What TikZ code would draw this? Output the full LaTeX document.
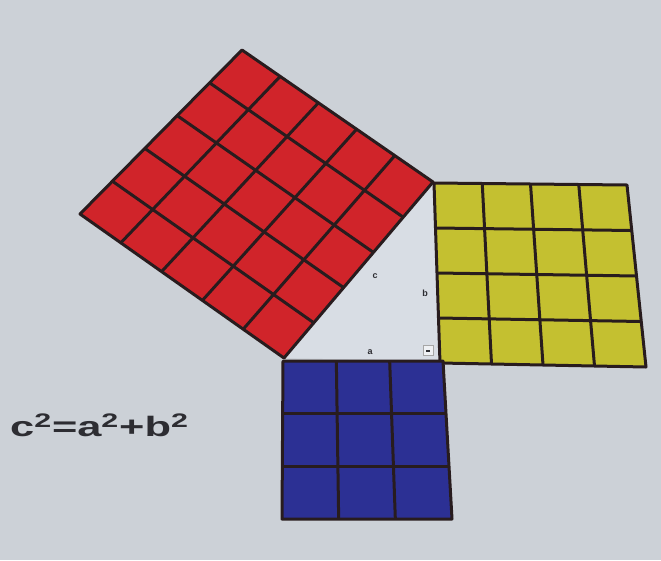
\documentclass[tikz,border=0pt]{standalone}
\usepackage{fontspec}
\setmainfont{Liberation Sans}
\usetikzlibrary{calc}
\definecolor{bg}{RGB}{204,209,215}
\definecolor{tri}{RGB}{216,221,228}
\definecolor{redsq}{RGB}{208,36,42}
\definecolor{yelsq}{RGB}{196,192,48}
\definecolor{blusq}{RGB}{44,48,148}
\definecolor{gline}{RGB}{40,28,30}
\definecolor{txt}{RGB}{45,45,50}
\newcommand\sqgrid[5]{%
  \pgfmathtruncatemacro\nm{#5-1}%
  \foreach \i in {1,...,\nm}{%
    \pgfmathsetmacro\f{\i/#5}%
    \draw[gridline] ($(#1)!\f!(#2)$) -- ($(#4)!\f!(#3)$);
    \draw[gridline] ($(#1)!\f!(#4)$) -- ($(#2)!\f!(#3)$);
  }%
  \draw[gridline, line join=round] (#1) -- (#2) -- (#3) -- (#4) -- cycle;
}
\begin{document}
\begin{tikzpicture}[x=1pt,y=-1pt,
  gridline/.style={draw=gline, line width=3pt},
  sidelbl/.style={text=txt, font=\bfseries\fontsize{9}{9}\selectfont, inner sep=0pt}]
\useasboundingbox (0,0) rectangle (661,560);
\fill[bg] (0,0) rectangle (661,560);
% corners
\coordinate (R1) at (242,50);
\coordinate (R2) at (433,182);
\coordinate (R3) at (284,358);
\coordinate (R4) at (80,214);
\coordinate (Y1) at (434,183);
\coordinate (Y2) at (627,185);
\coordinate (Y3) at (646,367);
\coordinate (Y4) at (440,363);
\coordinate (B1) at (283,361);
\coordinate (B2) at (443,361);
\coordinate (B3) at (452,519);
\coordinate (B4) at (282,519);
\coordinate (RA) at (440,361);
% triangle
\fill[tri] (R3) -- (R2) -- (RA) -- cycle;
% squares
\fill[redsq] (R1) -- (R2) -- (R3) -- (R4) -- cycle;
\sqgrid{R1}{R2}{R3}{R4}{5}
\fill[yelsq] (Y1) -- (Y2) -- (Y3) -- (Y4) -- cycle;
\sqgrid{Y1}{Y2}{Y3}{Y4}{4}
\fill[blusq] (B1) -- (B2) -- (B3) -- (B4) -- cycle;
\sqgrid{B1}{B2}{B3}{B4}{3}
% right angle marker
\draw[gray!70, line width=0.6pt, fill=white!60!tri] (423,345) rectangle (433,355);
\draw[txt, line width=1.2pt] (426,351) -- (430,351);
% labels
\node[sidelbl] (lc) at (375,276) {c};
\node[sidelbl] (lb) at (425,293) {b};
\node[sidelbl] (la) at (370,352) {a};
% formula
\node[text=txt, inner sep=0pt, anchor=west] (eq) at (10,425)
  {\scalebox{1.55}[1]{\bfseries\fontsize{28}{30}\selectfont c\textsuperscript{2}=a\textsuperscript{2}+b\textsuperscript{2}}};
\end{tikzpicture}
\end{document}
